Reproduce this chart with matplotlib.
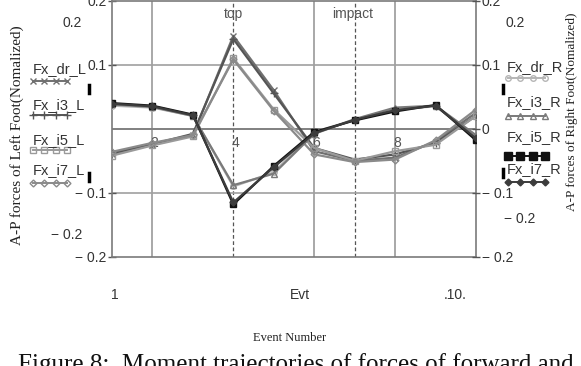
import numpy as np
import matplotlib
matplotlib.use("Agg")
from matplotlib import pyplot as plt
from matplotlib.lines import Line2D

# event numbers and A-P forces (normalized)
events = np.arange(1, 11)

fx_dr_L = [-0.040, -0.025, -0.010, 0.145, 0.060, -0.035, -0.050, -0.045, -0.020, 0.025]
fx_i3_L = [-0.038, -0.024, -0.008, 0.140, 0.055, -0.030, -0.048, -0.040, -0.022, 0.020]
fx_i5_L = [-0.042, -0.026, -0.012, 0.110, 0.030, -0.030, -0.050, -0.035, -0.025, 0.020]
fx_i7_L = [-0.036, -0.022, -0.010, 0.108, 0.028, -0.040, -0.052, -0.048, -0.018, 0.030]

fx_dr_R = [0.036, 0.033, 0.020, -0.090, -0.068, -0.005, 0.014, 0.030, 0.035, -0.012]
fx_i3_R = [0.038, 0.034, 0.020, -0.088, -0.070, -0.008, 0.015, 0.033, 0.036, -0.010]
fx_i5_R = [0.040, 0.036, 0.022, -0.118, -0.058, -0.005, 0.013, 0.027, 0.037, -0.018]
fx_i7_R = [0.039, 0.035, 0.021, -0.115, -0.060, -0.007, 0.014, 0.029, 0.036, -0.015]

left_names = ["Fx_dr_L", "Fx_i3_L", "Fx_i5_L", "Fx_i7_L"]
right_names = ["Fx_dr_R", "Fx_i3_R", "Fx_i5_R", "Fx_i7_R"]

W, H = 581, 366
narrow = ["Liberation Sans", "DejaVu Sans"]
serif = ["Liberation Serif", "DejaVu Serif"]


def px(x, y):
    return x / W, 1 - y / H


fig = plt.figure(figsize=(W / 100, H / 100), dpi=100)
ax = fig.add_axes([112 / W, 1 - 257 / H, (476 - 112) / W, (257 - 0.5) / H])

# styles: (data, color, marker, size, face)
left_styles = [
    (fx_dr_L, "#707070", "x", 5, "none"),
    (fx_i3_L, "#555555", "+", 6, "none"),
    (fx_i5_L, "#9a9a9a", "s", 4, "none"),
    (fx_i7_L, "#8a8a8a", "D", 3.5, "none"),
]
right_styles = [
    (fx_dr_R, "#b5b5b5", "o", 4, "none"),
    (fx_i3_R, "#7a7a7a", "^", 4, "none"),
    (fx_i5_R, "#111111", "s", 5, "#111111"),
    (fx_i7_R, "#3c3c3c", "D", 3.5, "#3c3c3c"),
]

for data, c, m, ms, fc in left_styles + right_styles:
    ax.plot(events, data, color=c, lw=1.6, marker=m, ms=ms, mfc=fc, mec=c, mew=1.0, zorder=3)

ax.set_xlim(1, 10)
ax.set_ylim(-0.2, 0.2)

# grid
for x in [2, 6, 8]:
    ax.axvline(x, color="#9a9a9a", lw=1.2, zorder=1)
for x in [4, 7]:
    ax.axvline(x, color="#555555", lw=0.9, ls=(0, (3, 2)), zorder=1)
for y in [0.1, -0.1]:
    ax.axhline(y, color="#a0a0a0", lw=1.2, zorder=1)
ax.axhline(0, color="#808080", lw=1.4, zorder=1)

for s in ax.spines.values():
    s.set_color("#7a7a7a")
    s.set_linewidth(1.2)

ax.set_xticks([])
ax.set_yticks([-0.2, -0.1, 0.1, 0.2])
ax.set_yticklabels(["\u2212 0.2", "\u2212 0.1", "0.1", "0.2"])
ax.tick_params(axis="y", direction="inout", length=6, width=1, color="#555555",
               labelsize=10, labelcolor="#333333", pad=1)
for t in ax.get_yticklabels():
    t.set_family(narrow)

ax2 = ax.twinx()
ax2.set_ylim(-0.2, 0.2)
ax2.set_yticks([-0.2, -0.1, 0, 0.1, 0.2])
ax2.set_yticklabels(["\u2212 0.2", "\u2212 0.1", "0", "0.1", "0.2"])
ax2.tick_params(axis="y", direction="inout", length=6, width=1, color="#555555",
                labelsize=10, labelcolor="#333333", pad=1)
for t in ax2.get_yticklabels():
    t.set_family(narrow)
for s in ax2.spines.values():
    s.set_visible(False)

# x labels inside the plot
for x in [2, 4, 6, 8]:
    ax.text(x + 0.05, -0.022, str(x), ha="center", va="center", fontsize=10,
            family=narrow, color="#555555", zorder=2)

ax.text(4, 0.179, "top", ha="center", va="center", fontsize=10, family=narrow, color="#555555")
ax.text(6.95, 0.179, "impact", ha="center", va="center", fontsize=10, family=narrow, color="#555555")

# limits labels (Mathcad style)
fig.text(*px(72, 23), "0.2", ha="center", va="center", fontsize=10, family=narrow, color="#333333")
fig.text(*px(67, 235), "\u2212 0.2", ha="center", va="center", fontsize=10, family=narrow, color="#333333")
fig.text(*px(515, 23), "0.2", ha="center", va="center", fontsize=10, family=narrow, color="#333333")
fig.text(*px(520, 219), "\u2212 0.2", ha="center", va="center", fontsize=10, family=narrow, color="#333333")

fig.text(*px(115, 295), "1", ha="center", va="center", fontsize=10, family=narrow, color="#333333")
fig.text(*px(300, 295), "Evt", ha="center", va="center", fontsize=10, family=narrow, color="#333333")
fig.text(*px(455, 295), ".10.", ha="center", va="center", fontsize=10, family=narrow, color="#333333")

fig.text(*px(290, 338), "Event Number", ha="center", va="center", fontsize=9, family=serif, color="#222222")

fig.text(*px(17, 135), "A-P forces of Left Foot(Nomalized)", rotation=90, ha="center", va="center",
         fontsize=11, family=serif, color="#222222")
fig.text(*px(572, 112), "A-P forces of Right Foot(Nomalized)", rotation=90, ha="center", va="center",
         fontsize=9.5, family=serif, color="#222222")

fig.text(*px(18, 371), "Figure 8:  Moment trajectories of forces of forward and", ha="left",
         va="baseline", fontsize=18, family=serif, color="#111111")

# legends
left_pos = [(69, 81), (105, 115), (140, 150), (170, 183)]
right_pos = [(67, 78), (102, 116), (137, 156), (169, 182)]

for (data, c, m, ms, fc), name, (ty, ly) in zip(left_styles, left_names, left_pos):
    fig.text(*px(33, ty), name, ha="left", va="center", fontsize=10.5, family=narrow, color="#333333")
    xs = np.array([33, 44, 56, 67]) / W
    fig.add_artist(Line2D(xs, [1 - ly / H] * 4, color=c, lw=1.4, marker=m, ms=ms,
                          mfc=fc, mec=c))

for (data, c, m, ms, fc), name, (ty, ly) in zip(right_styles, right_names, right_pos):
    fig.text(*px(507, ty), name, ha="left", va="center", fontsize=10.5, family=narrow, color="#333333")
    xs = np.array([508, 520, 533, 545]) / W
    fig.add_artist(Line2D(xs, [1 - ly / H] * 4, color=c, lw=1.4, marker=m, ms=ms + (1 if m == "s" else 0),
                          mfc=fc, mec=c))

# small black marks next to legends
for x, y in [(89, 89), (89, 177), (503, 89), (503, 173)]:
    fig.add_artist(Line2D([x / W] * 2, [1 - (y - 4) / H, 1 - (y + 4) / H], color="black", lw=2.5))

fig.savefig("out.png", dpi=100)
